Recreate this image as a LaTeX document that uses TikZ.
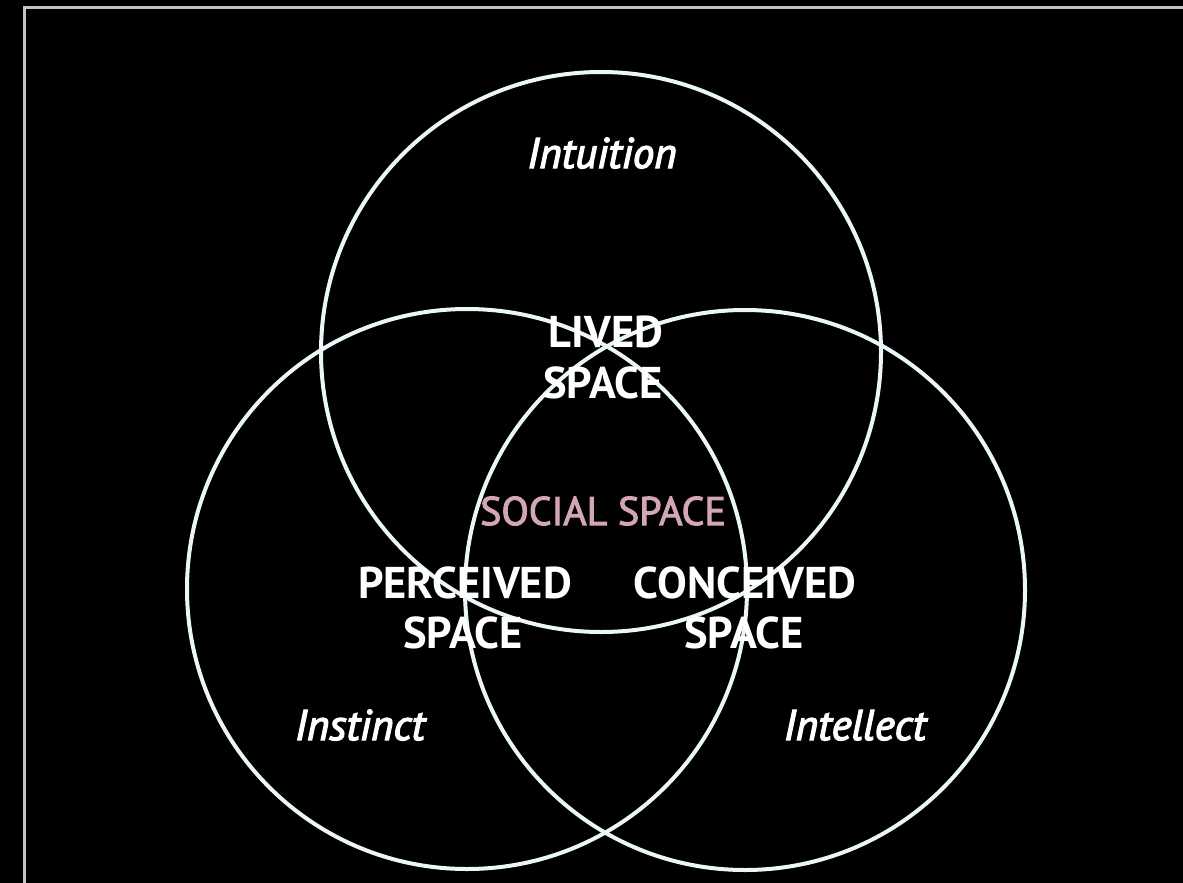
\documentclass[tikz,border=0pt]{standalone}
\usepackage{fontspec}
\setmainfont{PT Sans}
\newfontfamily\heavyit[FakeBold=3]{PT Sans Italic}
\newfontfamily\semireg[FakeBold=2.5]{PT Sans}
\begin{document}
\begin{tikzpicture}[x=1pt,y=-1pt,
  ring/.style={draw=ringcol,line width=4pt},
  space/.style={text=white,font=\fontsize{44.5}{50}\selectfont\bfseries,anchor=base,inner sep=0pt},
  mind/.style={text=white,font=\fontsize{43}{48}\heavyit,anchor=base,inner sep=0pt},
  social/.style={text=socialcol,font=\fontsize{40}{46}\semireg,anchor=base,inner sep=0pt}]
\definecolor{ringcol}{HTML}{EAF6F8}
\definecolor{socialcol}{HTML}{D2A6B6}
\definecolor{framecol}{HTML}{C4C4C4}
\fill[black] (0,0) rectangle (1183,883);
\useasboundingbox (0,0) rectangle (1183,883);
\draw[framecol,line width=2.2pt] (24.5,883) -- (24.5,7.5) -- (1183,7.5);
\coordinate (ctop) at (601,352);
\coordinate (cleft) at (467,589);
\coordinate (cright) at (745,590);
\draw[ring] (ctop) circle (280);
\draw[ring] (cleft) circle (280);
\draw[ring] (cright) circle (280);
\node[mind] (intuition) at (602,168) {Intuition};
\node[mind] (instinct) at (360,740) {Instinct};
\node[mind] (intellect) at (855,740) {Intellect};
\node[space] (lived1) at (606,347) {LIVED};
\node[space] (lived2) at (603,398) {SPACE};
\node[social] (social) at (603,525) {SOCIAL SPACE};
\node[space] (perc1) at (465,598) {PERCEIVED};
\node[space] (perc2) at (463,648) {SPACE};
\node[space] (conc1) at (745,598) {CONCEIVED};
\node[space] (conc2) at (744,648) {SPACE};
\end{tikzpicture}
\end{document}
